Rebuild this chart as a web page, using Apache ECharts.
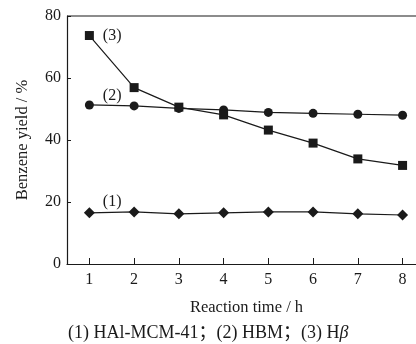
<!DOCTYPE html>
<html>
<head>
<meta charset="utf-8">
<script src="https://cdn.jsdelivr.net/npm/echarts@6/dist/echarts.min.js"></script>
<style>
  html, body { margin: 0; padding: 0; background: #fff; }
  #chart { width: 416px; height: 344px; }
</style>
</head>
<body>
<div id="chart"></div>
<script>
// reaction time (h)
const hours = [1, 2, 3, 4, 5, 6, 7, 8]
// benzene yield (%) per catalyst
const hal = [16.5, 16.8, 16.2, 16.5, 16.8, 16.8, 16.2, 15.8]   // (1) HAl-MCM-41
const hbm = [51.3, 51.0, 50.2, 49.7, 48.9, 48.6, 48.3, 48.0]   // (2) HBM
const hbeta = [73.7, 56.9, 50.6, 48.1, 43.2, 39.0, 33.9, 31.8] // (3) Hβ
const seriesTags = ['(1)', '(2)', '(3)']

const font = '"Liberation Serif", "DejaVu Serif", serif'
const ink = '#1a1a1a'

const chart = echarts.init(document.getElementById('chart'))

function makeSeries(values, symbol, size, tag, offset) {
  return {
    type: 'line',
    data: values.map((v, i) => {
      const item = { value: [hours[i], v] }
      if (i === 0) {
        item.label = {
          show: true,
          formatter: tag,
          position: 'right',
          offset: offset,
          fontFamily: font,
          fontSize: 16,
          color: ink
        }
      }
      return item
    }),
    symbol: symbol,
    symbolSize: size,
    showSymbol: true,
    itemStyle: { color: ink },
    lineStyle: { color: ink, width: 1.2 },
    label: { show: false },
    animation: false
  }
}

chart.setOption({
  animation: false,
  grid: { left: 67, right: 0, top: 16, bottom: 80 },
  xAxis: {
    type: 'value',
    min: 0.5,
    max: 8.3,
    name: 'Reaction time / h',
    nameLocation: 'middle',
    nameGap: 35,
    nameTextStyle: { fontFamily: font, fontSize: 16.5, color: ink, padding: [0, 0, 0, 10] },
    axisLine: { onZero: false, lineStyle: { color: ink, width: 1.2 } },
    axisTick: { inside: true, length: 6, customValues: hours, lineStyle: { color: ink } },
    axisLabel: { customValues: hours, fontFamily: font, fontSize: 16, color: ink, margin: 8 },
    splitLine: { show: false }
  },
  yAxis: {
    type: 'value',
    min: 0,
    max: 80,
    interval: 20,
    name: 'Benzene yield / %',
    nameLocation: 'middle',
    nameGap: 36,
    nameTextStyle: { fontFamily: font, fontSize: 16.5, color: ink },
    axisLine: { show: true, onZero: false, lineStyle: { color: ink, width: 1.2 } },
    axisTick: { inside: true, length: 4, lineStyle: { color: ink } },
    axisLabel: { fontFamily: font, fontSize: 16, color: ink, margin: 6 },
    splitLine: { show: false }
  },
  series: [
    makeSeries(hal, 'diamond', 11, seriesTags[0], [3, -11]),
    makeSeries(hbm, 'circle', 9, seriesTags[1], [4, -9]),
    makeSeries(hbeta, 'rect', 9, seriesTags[2], [4, 0])
  ],
  graphic: [{
    // frame line along the top of the plot
    type: 'line',
    shape: { x1: 67, y1: 16, x2: 416, y2: 16 },
    style: { stroke: ink, lineWidth: 1.2 }
  }, {
    type: 'text',
    left: 68,
    top: 324,
    style: {
      text: '{n|(1) HAl-MCM-41；(2) HBM；(3) H}{g|β}',
      rich: {
        n: { fontFamily: '"Liberation Serif", "Noto Sans CJK SC", serif', fontSize: 18, fill: ink },
        g: { fontFamily: font, fontSize: 18, fontStyle: 'italic', fill: ink }
      }
    }
  }]
})
</script>
</body>
</html>
